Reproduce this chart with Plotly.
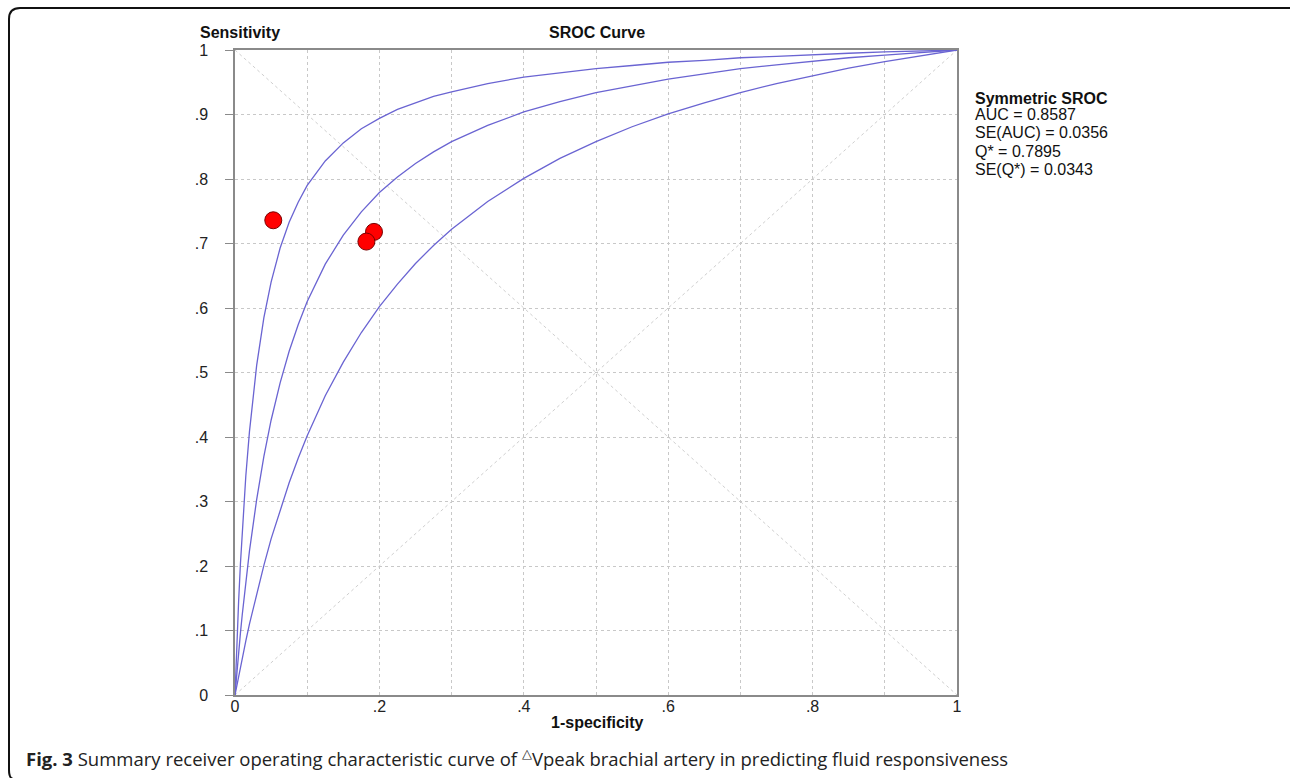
import plotly.graph_objects as go

# ---- data ----
fpr_grid = [0, 0.001, 0.002, 0.0035, 0.005, 0.0075, 0.01, 0.015, 0.02, 0.03, 0.04, 0.05,
            0.0625, 0.075, 0.0875, 0.1, 0.125, 0.15, 0.175, 0.2, 0.225, 0.25, 0.275, 0.3,
            0.35, 0.4, 0.45, 0.5, 0.55, 0.6, 0.65, 0.7, 0.75, 0.8, 0.85, 0.9, 0.95, 1.0]
sroc_upper = [0, 0.033, 0.063, 0.106, 0.145, 0.203, 0.254, 0.340, 0.408, 0.511, 0.585, 0.640,
              0.693, 0.733, 0.764, 0.790, 0.828, 0.856, 0.878, 0.894, 0.908, 0.918, 0.928, 0.935,
              0.948, 0.958, 0.965, 0.971, 0.976, 0.981, 0.984, 0.988, 0.990, 0.993, 0.995, 0.997,
              0.998, 1.0]
sroc_mid = [0, 0.014, 0.027, 0.047, 0.066, 0.096, 0.124, 0.177, 0.223, 0.303, 0.370, 0.426,
            0.484, 0.533, 0.574, 0.610, 0.668, 0.713, 0.749, 0.779, 0.803, 0.824, 0.842, 0.858,
            0.883, 0.904, 0.920, 0.934, 0.945, 0.955, 0.963, 0.971, 0.977, 0.983, 0.988, 0.992,
            0.996, 1.0]
sroc_lower = [0, 0.006, 0.012, 0.021, 0.030, 0.044, 0.058, 0.084, 0.110, 0.158, 0.201, 0.242,
              0.287, 0.329, 0.367, 0.402, 0.464, 0.516, 0.562, 0.602, 0.637, 0.669, 0.697, 0.722,
              0.765, 0.801, 0.832, 0.858, 0.881, 0.901, 0.918, 0.934, 0.948, 0.960, 0.972, 0.982,
              0.991, 1.0]

study_fpr = [0.053, 0.1925, 0.182]
study_sens = [0.736, 0.718, 0.703]

diag_x = [0, 1]
diag_up = [0, 1]
diag_down = [1, 0]

y_ticks = [0, 0.1, 0.2, 0.3, 0.4, 0.5, 0.6, 0.7, 0.8, 0.9, 1.0]
y_labels = ["0", ".1", ".2", ".3", ".4", ".5", ".6", ".7", ".8", ".9", "1"]
x_ticks = [0, 0.2, 0.4, 0.6, 0.8, 1.0]
x_labels = ["0", ".2", ".4", ".6", ".8", "1"]

stats_title = "Symmetric SROC"
stats_lines = ["AUC = 0.8587", "SE(AUC) = 0.0356", "Q* = 0.7895", "SE(Q*) = 0.0343"]

# ---- layout geometry (pixels) ----
W, H = 1290, 778
L, R, T, B = 235, 957, 50, 695
PW, PH = R - L, B - T


def px(x):
    return (x - L) / PW


def py(y):
    return (B - y) / PH


FONT = "Liberation Sans, Arial, sans-serif"
CURVE = "#6a64d2"
GRID = "#c8c8c8"

fig = go.Figure()

for yy in (diag_up, diag_down):
    fig.add_trace(go.Scatter(x=diag_x, y=yy, mode="lines",
                             line=dict(color="#cfcfcf", width=1, dash="dot"),
                             hoverinfo="skip", showlegend=False))

for curve in (sroc_upper, sroc_mid, sroc_lower):
    fig.add_trace(go.Scatter(x=fpr_grid, y=curve, mode="lines",
                             line=dict(color=CURVE, width=1.3),
                             showlegend=False))

fig.add_trace(go.Scatter(x=study_fpr, y=study_sens, mode="markers",
                         marker=dict(size=17, color="#ff0000",
                                     line=dict(color="#7a0000", width=1)),
                         showlegend=False))

fig.update_xaxes(range=[0, 1], tickvals=x_ticks, ticktext=x_labels,
                 showgrid=True, gridcolor=GRID, griddash="dot", gridwidth=1,
                 minor=dict(dtick=0.1, showgrid=True, gridcolor=GRID, griddash="dot", gridwidth=1),
                 showline=True, linecolor="#8a8a8a", linewidth=1.5, mirror=True,
                 ticks="", zeroline=False, ticklabelstandoff=-4,
                 tickfont=dict(family=FONT, size=16, color="#222"))
fig.update_yaxes(range=[0, 1], tickvals=y_ticks, ticktext=y_labels,
                 showgrid=True, gridcolor=GRID, griddash="dot", gridwidth=1,
                 showline=True, linecolor="#8a8a8a", linewidth=1.5, mirror=True,
                 ticks="outside", ticklen=8, tickcolor="#8a8a8a", tickwidth=1.2,
                 ticklabelstandoff=14, zeroline=False,
                 tickfont=dict(family=FONT, size=16, color="#222"))

ann = [
    dict(x=px(198), y=py(32), text="<b>Sensitivity</b>", xanchor="left", yanchor="middle"),
    dict(x=px(597), y=py(32), text="<b>SROC Curve</b>", xanchor="center", yanchor="middle"),
    dict(x=px(597), y=py(722), text="<b>1-specificity</b>", xanchor="center", yanchor="middle"),
    dict(x=px(973), y=py(98), text="<b>" + stats_title + "</b>", xanchor="left", yanchor="middle"),
]
line_y = [115, 132, 151, 169]
for t, yy in zip(stats_lines, line_y):
    ann.append(dict(x=px(973), y=py(yy), text=t, xanchor="left", yanchor="middle"))
for a in ann:
    a.update(xref="paper", yref="paper", showarrow=False,
             font=dict(family=FONT, size=16, color="#111"))

ann.append(dict(x=px(24), y=py(757), xref="paper", yref="paper", showarrow=False,
                xanchor="left", yanchor="middle",
                text="<b>Fig. 3</b> Summary receiver operating characteristic curve of "
                     "<sup>△</sup>Vpeak brachial artery in predicting fluid responsiveness",
                font=dict(family="Open Sans, sans-serif", size=18.5, color="#222")))

# rounded caption frame (top and left edges)
r = 11
frame_path = (f"M {px(1292)} {py(8)} L {px(9 + r)} {py(8)} "
              f"Q {px(9)} {py(8)} {px(9)} {py(8 + r)} "
              f"L {px(9)} {py(770)} Q {px(9)} {py(778)} {px(13)} {py(779)}")

fig.update_layout(
    width=W, height=H,
    margin=dict(l=L, r=W - R, t=T, b=H - B, pad=0),
    paper_bgcolor="white", plot_bgcolor="white",
    annotations=ann,
    shapes=[dict(type="path", path=frame_path, xref="paper", yref="paper",
                 line=dict(color="#111", width=2))],
    showlegend=False,
)

fig.write_html("out.html", config={"displayModeBar": False},
               post_script="document.body.style.margin='0px';document.body.style.overflow='hidden';")
